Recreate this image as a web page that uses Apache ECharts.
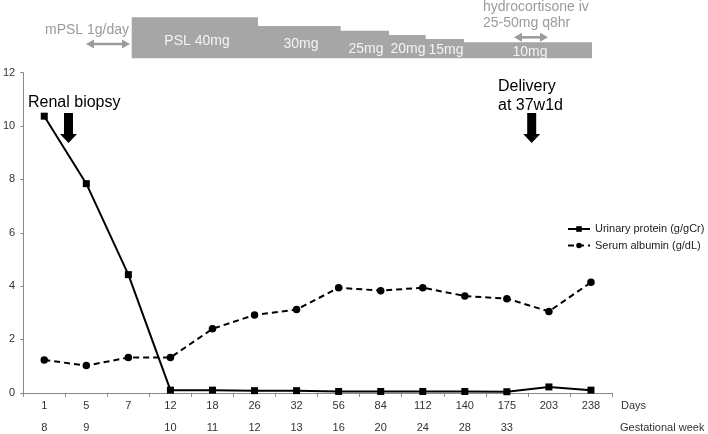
<!DOCTYPE html>
<html>
<head>
<meta charset="utf-8">
<script src="https://cdn.jsdelivr.net/npm/echarts@6/dist/echarts.min.js"></script>
<style>html,body{margin:0;padding:0;background:#fff}#c{width:708px;height:434px}</style>
</head>
<body>
<div id="c"></div>
<script>
const days = ['1','5','7','12','18','26','32','56','84','112','140','175','203','238'];
const gestWeeks = ['8','9','','10','11','12','13','16','20','24','28','33','',''];
const urinaryProtein = [10.37, 7.84, 4.43, 0.1, 0.1, 0.08, 0.08, 0.05, 0.05, 0.05, 0.05, 0.04, 0.22, 0.1];
const serumAlbumin = [1.23, 1.02, 1.32, 1.32, 2.4, 2.92, 3.12, 3.94, 3.83, 3.94, 3.63, 3.53, 3.05, 4.14];
const yTicks = {min: 0, max: 12, interval: 2};

const FONT = '"Liberation Sans", Arial, sans-serif';
const GRAY_BOX = '#a6a6a6';
const GRAY_TXT = '#9b9b9b';

function dblArrow(x1, x2, y, color) {
  const h = 8, w = 4.5;
  return [
    {type:'line', shape:{x1:x1+h-1, y1:y, x2:x2-h+1, y2:y}, style:{stroke:color, lineWidth:2.5}},
    {type:'polygon', shape:{points:[[x1,y],[x1+h,y-w],[x1+h,y+w]]}, style:{fill:color}},
    {type:'polygon', shape:{points:[[x2,y],[x2-h,y-w],[x2-h,y+w]]}, style:{fill:color}}
  ];
}
function downArrow(cx, y1, y2) {
  const sw = 4.5, hw = 8.5, hh = 9;
  return {type:'polygon', shape:{points:[
    [cx-sw,y1],[cx+sw,y1],[cx+sw,y2-hh],[cx+hw,y2-hh],[cx,y2],[cx-hw,y2-hh],[cx-sw,y2-hh]
  ]}, style:{fill:'#000'}};
}

const chart = echarts.init(document.getElementById('c'));
const graphic = [
  {type:'polygon', shape:{points:[
    [131.7,17.3],[258,17.3],[258,26],[340.7,26],[340.7,30.7],[389,30.7],[389,35],[425.7,35],
    [425.7,39],[464,39],[464,42.3],[592,42.3],[592,58.3],[131.7,58.3]
  ]}, style:{fill:GRAY_BOX}},
  {type:'text', x:197, y:41, style:{text:'PSL 40mg', fill:'#f4f4f4', font:'14px '+FONT, align:'center', verticalAlign:'middle'}},
  {type:'text', x:301, y:44, style:{text:'30mg', fill:'#f4f4f4', font:'14px '+FONT, align:'center', verticalAlign:'middle'}},
  {type:'text', x:366, y:49, style:{text:'25mg', fill:'#f4f4f4', font:'14px '+FONT, align:'center', verticalAlign:'middle'}},
  {type:'text', x:408, y:49, style:{text:'20mg', fill:'#f4f4f4', font:'14px '+FONT, align:'center', verticalAlign:'middle'}},
  {type:'text', x:446, y:50, style:{text:'15mg', fill:'#f4f4f4', font:'14px '+FONT, align:'center', verticalAlign:'middle'}},
  {type:'text', x:530, y:52, style:{text:'10mg', fill:'#f4f4f4', font:'14px '+FONT, align:'center', verticalAlign:'middle'}},
  {type:'text', x:45, y:30, style:{text:'mPSL 1g/day', fill:GRAY_TXT, font:'14px '+FONT, align:'left', verticalAlign:'middle'}},
  {type:'text', x:483, y:7.5, style:{text:'hydrocortisone iv', fill:GRAY_TXT, font:'14px '+FONT, align:'left', verticalAlign:'middle'}},
  {type:'text', x:483, y:23.5, style:{text:'25-50mg q8hr', fill:GRAY_TXT, font:'14px '+FONT, align:'left', verticalAlign:'middle'}},
  ...dblArrow(86, 130, 44, GRAY_TXT),
  ...dblArrow(514, 548, 37.3, GRAY_TXT),
  {type:'text', x:28, y:103, style:{text:'Renal biopsy', fill:'#000', font:'16px '+FONT, align:'left', verticalAlign:'middle'}},
  {type:'text', x:498, y:87, style:{text:'Delivery', fill:'#000', font:'16px '+FONT, align:'left', verticalAlign:'middle'}},
  {type:'text', x:498, y:106, style:{text:'at 37w1d', fill:'#000', font:'16px '+FONT, align:'left', verticalAlign:'middle'}},
  downArrow(68.5, 113, 143),
  downArrow(531.7, 113, 143),
  {type:'text', x:621, y:406, style:{text:'Days', fill:'#333', font:'11px '+FONT, align:'left', verticalAlign:'middle'}},
  {type:'text', x:620, y:427.7, style:{text:'Gestational week', fill:'#333', font:'11px '+FONT, align:'left', verticalAlign:'middle'}}
];

chart.setOption({
  animation: false,
  backgroundColor: '#fff',
  textStyle: {fontFamily: FONT},
  grid: {left: 22, right: 96, top: 72.7, bottom: 41.2, containLabel: false},
  legend: {
    orient: 'vertical', left: 567, top: 223.5, padding: 0, itemWidth: 22, itemHeight: 7, itemGap: 5.5,
    textStyle: {fontSize: 11, color: '#222', fontFamily: FONT},
    data: ['Urinary protein (g/gCr)', 'Serum albumin (g/dL)']
  },
  xAxis: {
    type: 'category', data: days, boundaryGap: true,
    axisLine: {lineStyle: {color: '#888', width: 1}},
    axisTick: {show: true, length: 4, lineStyle: {color: '#888'}},
    axisLabel: {
      interval: 0, margin: 2.3,
      formatter: (v, i) => '{d|' + v + '}\n{w|' + (gestWeeks[i] || ' ') + '}',
      rich: {
        d: {fontSize: 11, lineHeight: 21.7, color: '#333', fontFamily: FONT},
        w: {fontSize: 11, lineHeight: 21.7, color: '#333', fontFamily: FONT}
      }
    }
  },
  yAxis: {
    type: 'value', min: yTicks.min, max: yTicks.max, interval: yTicks.interval,
    axisLine: {show: true, lineStyle: {color: '#888', width: 1}},
    axisTick: {show: true, length: 3, lineStyle: {color: '#888'}},
    axisLabel: {fontSize: 11, color: '#333', margin: 8, fontFamily: FONT},
    splitLine: {show: false}
  },
  series: [
    {
      name: 'Urinary protein (g/gCr)', type: 'line', data: urinaryProtein,
      symbol: 'rect', symbolSize: 7, color: '#000',
      itemStyle: {color: '#000'},
      lineStyle: {color: '#000', width: 2}
    },
    {
      name: 'Serum albumin (g/dL)', type: 'line', data: serumAlbumin,
      symbol: 'circle', symbolSize: 7.5, color: '#000',
      itemStyle: {color: '#000'},
      lineStyle: {color: '#000', width: 2, type: [6, 4]}
    }
  ],
  graphic: graphic
});
</script>
</body>
</html>
